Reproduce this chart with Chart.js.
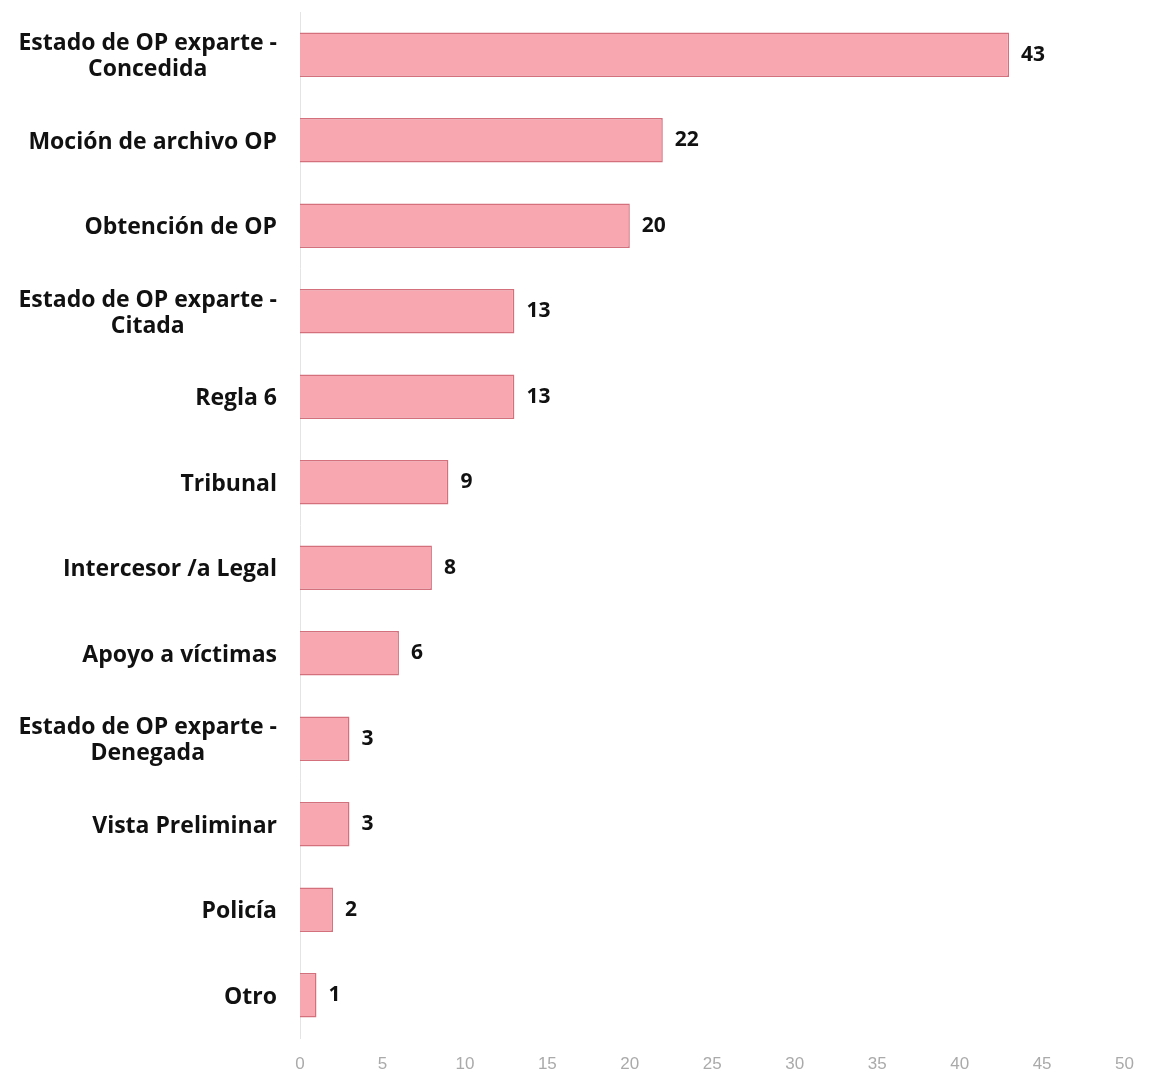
<!DOCTYPE html>
<html>
<head>
<meta charset="utf-8">
<script src="https://cdn.jsdelivr.net/npm/chart.js@4/dist/chart.umd.min.js"></script>
<style>
  body { margin: 0; background: #fff; }
  canvas { display: block; }
</style>
</head>
<body>
<canvas id="chart" width="1150" height="1074"></canvas>
<script>
// Categories (top to bottom) and counts
const categories = [
    ['Estado de OP exparte -', 'Concedida'],
    'Moción de archivo OP',
    'Obtención de OP',
    ['Estado de OP exparte -', 'Citada'],
    'Regla 6',
    'Tribunal',
    'Intercesor /a Legal',
    'Apoyo a víctimas',
    ['Estado de OP exparte -', 'Denegada'],
    'Vista Preliminar',
    'Policía',
    'Otro'
];
const counts = [43, 22, 20, 13, 13, 9, 8, 6, 3, 3, 2, 1];
const xTicks = [0, 5, 10, 15, 20, 25, 30, 35, 40, 45, 50];

const labelFont = 'bold 23px "Open Sans", sans-serif';
const valueFont = 'bold 21px "Open Sans", sans-serif';

// Draw category labels (lines centred in a right-aligned block) and values at bar ends
const labelPlugin = {
    id: 'labelPlugin',
    afterDraw(chart) {
        const ctx = chart.ctx;
        const yScale = chart.scales.y;
        const xScale = chart.scales.x;
        ctx.save();
        ctx.fillStyle = '#111';
        ctx.textBaseline = 'middle';

        ctx.font = labelFont;
        ctx.textAlign = 'center';
        categories.forEach((cat, i) => {
            const lines = Array.isArray(cat) ? cat : [cat];
            const y = yScale.getPixelForValue(i);
            const maxW = Math.max(...lines.map(l => ctx.measureText(l).width));
            const cx = 277 - maxW / 2;
            lines.forEach((line, j) => {
                ctx.fillText(line, cx, y + 2 + (j - (lines.length - 1) / 2) * 26);
            });
        });

        ctx.font = valueFont;
        ctx.textAlign = 'left';
        counts.forEach((v, i) => {
            const y = yScale.getPixelForValue(i);
            ctx.fillText(String(v), xScale.getPixelForValue(v) + 12, y);
        });
        ctx.restore();
    }
};

new Chart(document.getElementById('chart'), {
    type: 'bar',
    data: {
        labels: categories,
        datasets: [{
            data: counts,
            backgroundColor: 'rgb(248, 167, 176)',
            borderColor: 'rgb(212, 112, 124)',
            borderWidth: 1.5,
            categoryPercentage: 0.52,
            barPercentage: 1
        }]
    },
    options: {
        indexAxis: 'y',
        responsive: false,
        animation: false,
        layout: { padding: { top: 12, right: 21, bottom: 2, left: 0 } },
        plugins: {
            legend: { display: false },
            tooltip: { enabled: false }
        },
        scales: {
            x: {
                min: 0,
                max: 50,
                afterBuildTicks: scale => { scale.ticks = xTicks.map(v => ({ value: v })); },
                afterFit: scale => { scale.height = 34; },
                grid: { display: false, drawTicks: false },
                border: { display: false },
                ticks: {
                    color: '#aaaaaa',
                    padding: 16,
                    font: { family: '"Liberation Sans", sans-serif', size: 17 }
                }
            },
            y: {
                grid: { display: false, drawTicks: false },
                border: { display: true, color: '#e4e4e4', width: 1 },
                ticks: { display: false },
                afterFit: scale => { scale.width = 300; }
            }
        }
    },
    plugins: [labelPlugin]
});
</script>
</body>
</html>
